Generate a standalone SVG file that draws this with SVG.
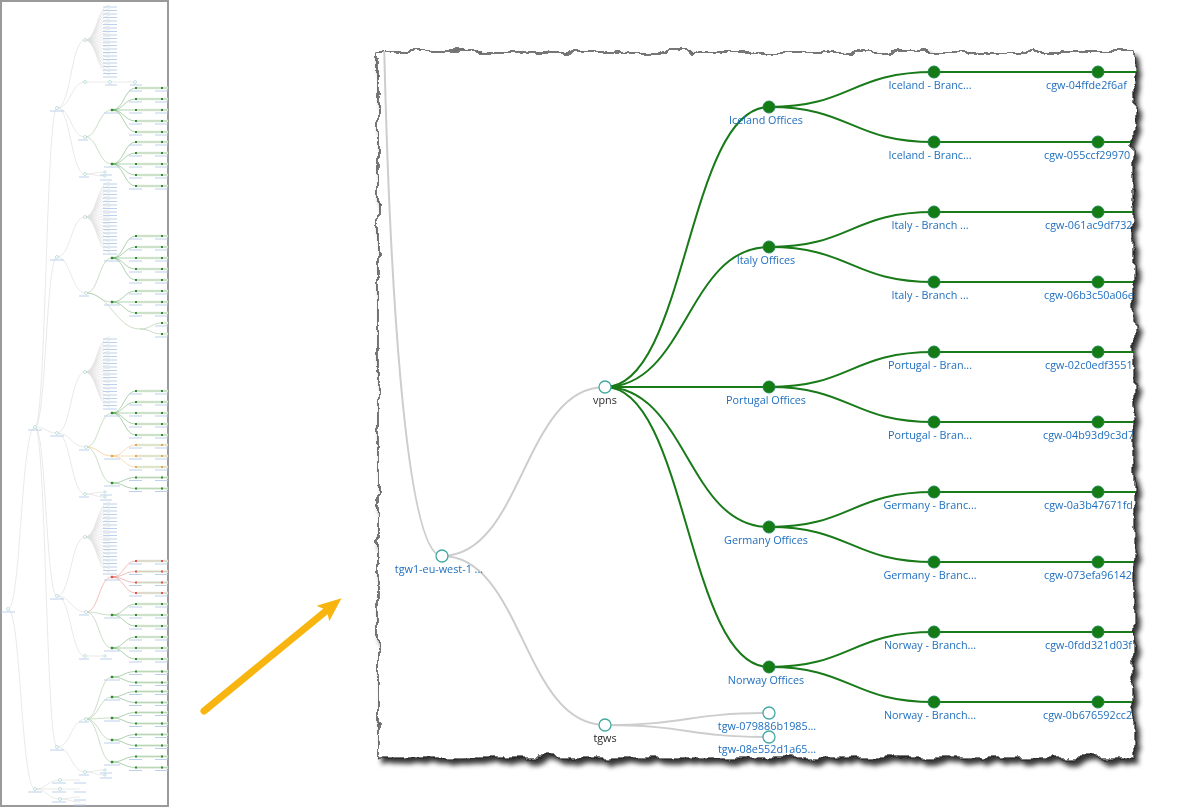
<svg xmlns="http://www.w3.org/2000/svg" xmlns:xlink="http://www.w3.org/1999/xlink" width="1200" height="808" viewBox="0 0 1200 808">
<style>
.lb{font-family:"Open Sans","Noto Sans",sans-serif;font-size:10.8px;fill:#1f6fbf;text-anchor:middle}
.lbs{font-family:"Open Sans","Noto Sans",sans-serif;font-size:10.8px;fill:#1f6fbf}
.lk{fill:#2a2a2a}
.lg{fill:none;stroke:#cdcdcd;stroke-width:2}
.lv{fill:none;stroke:#187a18;stroke-width:2}
.hn{fill:#fff;stroke:#42a9a3;stroke-width:1.3}
.fn{fill:#157c15;stroke:#1d8650;stroke-width:1}
.tg{fill:none;stroke:#e0e0e0;stroke-width:.7}
.tv{fill:none;stroke-width:.7}
.tn{fill:#fff;stroke:#9ccfcc;stroke-width:.6}
.tl{fill:none;stroke:#b5cbe8;stroke-width:.9}
.band{fill:none;stroke:#dfebdb;stroke-width:2.4}
</style>
<defs>
<filter id="torn" x="-5%" y="-5%" width="110%" height="110%">
<feTurbulence type="fractalNoise" baseFrequency="0.05" numOctaves="4" seed="7" result="n"/>
<feDisplacementMap in="SourceGraphic" in2="n" scale="12" xChannelSelector="R" yChannelSelector="G"/>
</filter>
<filter id="sh" x="-5%" y="-5%" width="112%" height="112%">
<feDropShadow dx="4" dy="5" stdDeviation="2.5" flood-color="#000" flood-opacity=".8"/>
</filter>
<mask id="pm" maskUnits="userSpaceOnUse" x="0" y="0" width="1200" height="808">
<rect x="378" y="52" width="756" height="706" fill="#fff" filter="url(#torn)"/>
</mask>
<marker id="ah" markerUnits="userSpaceOnUse" viewBox="0 0 24 24" refX="4" refY="12" markerWidth="24" markerHeight="24" orient="auto">
<polygon points="0,2 24,12 0,22 5,12" fill="#f8b50f"/>
</marker>
<g id="fan">
<path class="tg" d="M0 0C12 0 12 -35 25 -35M0 0C12 0 12 -31.5 25 -31.5M0 0C12 0 12 -28 25 -28M0 0C12 0 12 -24.5 25 -24.5M0 0C12 0 12 -21 25 -21M0 0C12 0 12 -17.5 25 -17.5M0 0C12 0 12 -14 25 -14M0 0C12 0 12 -10.5 25 -10.5M0 0C12 0 12 -7 25 -7M0 0C12 0 12 -3.5 25 -3.5M0 0H25M0 0C12 0 12 3.5 25 3.5M0 0C12 0 12 7 25 7M0 0C12 0 12 10.5 25 10.5M0 0C12 0 12 14 25 14M0 0C12 0 12 17.5 25 17.5M0 0C12 0 12 21 25 21M0 0C12 0 12 24.5 25 24.5M0 0C12 0 12 28 25 28M0 0C12 0 12 31.5 25 31.5M0 0C12 0 12 35 25 35"/>
<path class="tl" d="M18 -33h14M18 -29.5h14M18 -26h14M18 -22.5h14M18 -19h14M18 -15.5h14M18 -12h14M18 -8.5h14M18 -5h14M18 -1.5h14M18 2h14M18 5.5h14M18 9h14M18 12.5h14M18 16h14M18 19.5h14M18 23h14M18 26.5h14M18 30h14M18 33.5h14M18 37h14"/>
<circle class="tn" r="1.5"/>
</g>
<g id="o5">
<path class="tv" stroke="currentColor" stroke-opacity=".55" d="M0 0C12 0 12 -22 24 -22M0 0C12 0 12 -11 24 -11M0 0H24M0 0C12 0 12 11 24 11M0 0C12 0 12 22 24 22"/>
<path class="band" d="M24 -22H56M24 -11H56M24 0H56M24 11H56M24 22H56"/>
<path class="tv" stroke="currentColor" stroke-opacity=".3" stroke-width=".4" d="M24 -22H56M24 -11H56M24 0H56M24 11H56M24 22H56"/>
<path class="tl" d="M17 -19h13M43 -19h13M17 -8h13M43 -8h13M17 3h13M43 3h13M17 14h13M43 14h13M17 25h13M43 25h13M-8 3h16"/>
<g fill="currentColor"><rect x="-1.2" y="-1.2" width="2.4" height="2.4"/><rect x="23" y="-23" width="2" height="2"/><rect x="23" y="-12" width="2" height="2"/><rect x="23" y="-1" width="2" height="2"/><rect x="23" y="10" width="2" height="2"/><rect x="23" y="21" width="2" height="2"/><rect x="49" y="-23" width="2" height="2"/><rect x="49" y="-12" width="2" height="2"/><rect x="49" y="-1" width="2" height="2"/><rect x="49" y="10" width="2" height="2"/><rect x="49" y="21" width="2" height="2"/></g>
</g>
<g id="o3">
<path class="tv" stroke="currentColor" stroke-opacity=".55" d="M0 0C12 0 12 -11 24 -11M0 0H24M0 0C12 0 12 11 24 11"/>
<path class="band" d="M24 -11H56M24 0H56M24 11H56"/>
<path class="tv" stroke="currentColor" stroke-opacity=".3" stroke-width=".4" d="M24 -11H56M24 0H56M24 11H56"/>
<path class="tl" d="M17 -8h13M43 -8h13M17 3h13M43 3h13M17 14h13M43 14h13M-8 3h16"/>
<g fill="currentColor"><rect x="-1.2" y="-1.2" width="2.4" height="2.4"/><rect x="23" y="-12" width="2" height="2"/><rect x="23" y="-1" width="2" height="2"/><rect x="23" y="10" width="2" height="2"/><rect x="49" y="-12" width="2" height="2"/><rect x="49" y="-1" width="2" height="2"/><rect x="49" y="10" width="2" height="2"/></g>
</g>
<g id="o4">
<path class="tv" stroke="currentColor" stroke-opacity=".55" d="M0 0C12 0 12 -16 24 -16M0 0C12 0 12 -5.5 24 -5.5M0 0C12 0 12 5.5 24 5.5M0 0C12 0 12 16 24 16"/>
<path class="band" d="M24 -16H56M24 -5.5H56M24 5.5H56M24 16H56"/>
<path class="tv" stroke="currentColor" stroke-opacity=".3" stroke-width=".4" d="M24 -16H56M24 -5.5H56M24 5.5H56M24 16H56"/>
<path class="tl" d="M17 -13h13M43 -13h13M17 -2.5h13M43 -2.5h13M17 8.5h13M43 8.5h13M17 19h13M43 19h13M-8 3h16"/>
<g fill="currentColor"><rect x="-1.2" y="-1.2" width="2.4" height="2.4"/><rect x="23" y="-17" width="2" height="2"/><rect x="23" y="-6.5" width="2" height="2"/><rect x="23" y="4.5" width="2" height="2"/><rect x="23" y="15" width="2" height="2"/><rect x="49" y="-17" width="2" height="2"/><rect x="49" y="-6.5" width="2" height="2"/><rect x="49" y="4.5" width="2" height="2"/><rect x="49" y="15" width="2" height="2"/></g>
</g>
<g id="o2">
<path class="tv" stroke="currentColor" stroke-opacity=".55" d="M0 0C12 0 12 -5.5 24 -5.5M0 0C12 0 12 5.5 24 5.5"/>
<path class="band" d="M24 -5.5H56M24 5.5H56"/>
<path class="tv" stroke="currentColor" stroke-opacity=".3" stroke-width=".4" d="M24 -5.5H56M24 5.5H56"/>
<path class="tl" d="M17 -2.5h13M43 -2.5h13M17 8.5h13M43 8.5h13M-8 3h16"/>
<g fill="currentColor"><rect x="-1.2" y="-1.2" width="2.4" height="2.4"/><rect x="23" y="-6.5" width="2" height="2"/><rect x="23" y="4.5" width="2" height="2"/><rect x="49" y="-6.5" width="2" height="2"/><rect x="49" y="4.5" width="2" height="2"/></g>
</g>
</defs>

<rect width="1200" height="808" fill="#fff"/>

<!-- overview thumbnail -->
<g id="overview">
<rect x="1" y="1" width="167" height="805" fill="#fff" stroke="#9a9a9a" stroke-width="2"/>
<path class="tg" d="M8 609C21 609 21 427 35 427M8 609C21 609 21 789 35 789M35 427C46 427 46 108 57 108M35 427C46 427 46 257 57 257M35 427C46 427 46 433 57 433M35 427C46 427 46 596 57 596M35 427C46 427 46 747 57 747"/>
<path class="tg" d="M57 108C71 108 71 40 85 40M57 108C71 108 71 82 85 82M57 108C71 108 71 137 85 137M57 108C71 108 71 174 85 174M85 82H135M85 174C95 174 95 172 105 172M85 174C95 174 95 176 105 176"/>
<path class="tg" d="M57 257C71 257 71 217 85 217M57 257C71 257 71 293 86 293"/>
<path class="tg" d="M57 433C71 433 71 372 85 372M57 433C71 433 71 447 86 447M57 433C71 433 71 494 85 494M85 494C95 494 95 492 105 492M85 494C95 494 95 497 105 497"/>
<path class="tg" d="M57 596C71 596 71 537 85 537M57 596C71 596 71 612 86 612M57 596C71 596 71 656 85 656M85 656H105"/>
<path class="tg" d="M57 747C71 747 71 719 86 719M57 747C71 747 71 772 85 772M85 772C95 772 95 770 105 770M85 772C95 772 95 775 105 775"/>
<path class="tg" d="M35 789C47 789 47 780 60 780M35 789H60M35 789C47 789 47 799 60 799M60 780H80M60 789H80M60 799C70 799 70 797 80 797M60 799C70 799 70 802 80 802"/>
<path class="tv" stroke="#b5d0af" d="M85 137C98 137 98 110 112 110M85 137C98 137 98 164 112 164M86 293C99 293 99 258 112 258M86 293C99 293 99 302 112 302M86 293C110 293 116 329 140 329M140 329C151 329 151 323 162 323M140 329C151 329 151 334 162 334M86 447C99 447 99 413 112 413M86 447C99 447 99 483 112 483M86 612C99 612 99 615 112 615M86 612C99 612 99 648 112 648M86 719C99 719 99 677 112 677M86 719C99 719 99 697 112 697M86 719C99 719 99 718 112 718M86 719C99 719 99 740 112 740M86 719C99 719 99 762 112 762"/>
<path class="tv" stroke="#f3c58a" d="M86 447C99 447 99 456 112 456"/>
<path class="tv" stroke="#efa49e" d="M86 612C99 612 99 577 112 577"/>
<use xlink:href="#fan" x="85" y="40"/>
<use xlink:href="#fan" x="85" y="217"/>
<use xlink:href="#fan" x="85" y="372"/>
<use xlink:href="#fan" x="85" y="537"/>
<use xlink:href="#o5" x="112" y="110" color="#2e8a2e"/>
<use xlink:href="#o5" x="112" y="164" color="#2e8a2e"/>
<use xlink:href="#o5" x="112" y="258" color="#2e8a2e"/>
<use xlink:href="#o3" x="112" y="302" color="#2e8a2e"/>
<use xlink:href="#o5" x="112" y="413" color="#2e8a2e"/>
<use xlink:href="#o3" x="112" y="456" color="#e8a54a"/>
<use xlink:href="#o2" x="112" y="483" color="#2e8a2e"/>
<use xlink:href="#o4" x="112" y="577" color="#d9534f"/>
<use xlink:href="#o3" x="112" y="615" color="#2e8a2e"/>
<use xlink:href="#o3" x="112" y="648" color="#2e8a2e"/>
<use xlink:href="#o2" x="112" y="677" color="#2e8a2e"/>
<use xlink:href="#o2" x="112" y="697" color="#2e8a2e"/>
<use xlink:href="#o2" x="112" y="718" color="#2e8a2e"/>
<use xlink:href="#o2" x="112" y="740" color="#2e8a2e"/>
<use xlink:href="#o2" x="112" y="762" color="#2e8a2e"/>
<path class="band" d="M162 323H168M162 334H168"/>
<g fill="#2e8a2e"><rect x="161" y="322" width="2" height="2"/><rect x="161" y="333" width="2" height="2"/></g>
<path class="tl" d="M50 111h14M50 260h14M50 436h14M50 599h14M50 750h14M28 430h14M1 612h14M28 792h14M78 140h10M79 296h10M79 450h10M79 615h10M79 722h10M79 177h10M79 497h10M79 659h10M79 775h10M100 175h12M100 180h12M100 495h12M100 500h12M100 659h12M100 773h12M100 778h12M105 85h12M130 85h12M52 783h14M52 792h14M52 802h14M74 783h12M74 792h12M74 800h12M74 805h12M155 326h13M155 337h13"/>
<g class="tn">
<circle cx="8" cy="609" r="1.5"/><circle cx="35" cy="427" r="1.5"/><circle cx="35" cy="789" r="1.5"/>
<circle cx="57" cy="108" r="1.5"/><circle cx="57" cy="257" r="1.5"/><circle cx="57" cy="433" r="1.5"/><circle cx="57" cy="596" r="1.5"/><circle cx="57" cy="747" r="1.5"/>
<circle cx="85" cy="82" r="1.5"/><circle cx="110" cy="82" r="1.5"/><circle cx="135" cy="82" r="1.5"/>
<circle cx="85" cy="137" r="1.5"/><circle cx="85" cy="174" r="1.5"/><circle cx="86" cy="293" r="1.5"/><circle cx="86" cy="447" r="1.5"/><circle cx="85" cy="494" r="1.5"/><circle cx="86" cy="612" r="1.5"/><circle cx="85" cy="656" r="1.5"/><circle cx="86" cy="719" r="1.5"/><circle cx="85" cy="772" r="1.5"/>
<circle cx="105" cy="172" r="1.2"/><circle cx="105" cy="176" r="1.2"/><circle cx="105" cy="492" r="1.2"/><circle cx="105" cy="497" r="1.2"/><circle cx="105" cy="656" r="1.2"/><circle cx="105" cy="770" r="1.2"/><circle cx="105" cy="775" r="1.2"/>
<circle cx="60" cy="780" r="1.5"/><circle cx="60" cy="789" r="1.5"/><circle cx="60" cy="799" r="1.5"/>
</g>
</g>

<!-- orange arrow -->
<g id="pointer">
<path d="M204 711L326 611" fill="none" stroke="#f8b50f" stroke-width="7" stroke-linecap="round" marker-end="url(#ah)"/>
</g>

<!-- torn paper panel -->
<g id="panel" filter="url(#sh)">
<rect x="378" y="52" width="756" height="706" fill="#fff" stroke="#1e1e1e" stroke-width="1.2" filter="url(#torn)"/>
</g>

<g mask="url(#pm)">
<g id="connectors">
<path class="lg" d="M384 40C389 260 404 556 442 556"/>
<path class="lg" d="M442 556C523 556 523 387 605 387"/>
<path class="lg" d="M442 556C523 556 523 725 605 725"/>
<path class="lg" d="M605 725C687 725 687 713 769 713"/>
<path class="lg" d="M605 725C687 725 687 737 769 737"/>
<path class="lv" d="M605 387C687 387 687 107 769 107"/>
<path class="lv" d="M605 387C687 387 687 247 769 247"/>
<path class="lv" d="M605 387H769"/>
<path class="lv" d="M605 387C687 387 687 527 769 527"/>
<path class="lv" d="M605 387C687 387 687 667 769 667"/>
<path class="lv" d="M769 107C851 107 851 72 934 72"/>
<path class="lv" d="M769 107C851 107 851 142 934 142"/>
<path class="lv" d="M769 247C851 247 851 212 934 212"/>
<path class="lv" d="M769 247C851 247 851 282 934 282"/>
<path class="lv" d="M769 387C851 387 851 352 934 352"/>
<path class="lv" d="M769 387C851 387 851 422 934 422"/>
<path class="lv" d="M769 527C851 527 851 492 934 492"/>
<path class="lv" d="M769 527C851 527 851 562 934 562"/>
<path class="lv" d="M769 667C851 667 851 632 934 632"/>
<path class="lv" d="M769 667C851 667 851 702 934 702"/>
<path class="lv" d="M934 72H1160M934 142H1160M934 212H1160M934 282H1160M934 352H1160M934 422H1160M934 492H1160M934 562H1160M934 632H1160M934 702H1160"/>
</g>

<g id="n-tgw1"><circle class="hn" cx="442" cy="556" r="6"/><text class="lb" x="439" y="573">tgw1-eu-west-1 ...</text></g>
<g id="n-vpns"><circle class="hn" cx="605" cy="387" r="6"/><text class="lb lk" x="605" y="404">vpns</text></g>
<g id="n-tgws"><circle class="hn" cx="605" cy="725" r="6"/><text class="lb lk" x="605" y="742">tgws</text></g>
<g id="n-tgw-a"><circle class="hn" cx="769" cy="713" r="6"/><text class="lb" x="767" y="730">tgw-079886b1985...</text></g>
<g id="n-tgw-b"><circle class="hn" cx="769" cy="737" r="6"/><text class="lb" x="767" y="753">tgw-08e552d1a65...</text></g>

<g id="n-iceland"><circle class="fn" cx="769" cy="107" r="6"/><text class="lb" x="766" y="124">Iceland Offices</text></g>
<g id="n-italy"><circle class="fn" cx="769" cy="247" r="6"/><text class="lb" x="766" y="264">Italy Offices</text></g>
<g id="n-portugal"><circle class="fn" cx="769" cy="387" r="6"/><text class="lb" x="766" y="404">Portugal Offices</text></g>
<g id="n-germany"><circle class="fn" cx="769" cy="527" r="6"/><text class="lb" x="766" y="544">Germany Offices</text></g>
<g id="n-norway"><circle class="fn" cx="769" cy="667" r="6"/><text class="lb" x="766" y="684">Norway Offices</text></g>

<g id="n-ib1"><circle class="fn" cx="934" cy="72" r="6"/><text class="lb" x="930" y="89">Iceland - Branc...</text></g>
<g id="n-ib2"><circle class="fn" cx="934" cy="142" r="6"/><text class="lb" x="930" y="159">Iceland - Branc...</text></g>
<g id="n-itb1"><circle class="fn" cx="934" cy="212" r="6"/><text class="lb" x="930" y="229">Italy - Branch ...</text></g>
<g id="n-itb2"><circle class="fn" cx="934" cy="282" r="6"/><text class="lb" x="930" y="299">Italy - Branch ...</text></g>
<g id="n-pb1"><circle class="fn" cx="934" cy="352" r="6"/><text class="lb" x="930" y="369">Portugal - Bran...</text></g>
<g id="n-pb2"><circle class="fn" cx="934" cy="422" r="6"/><text class="lb" x="930" y="439">Portugal - Bran...</text></g>
<g id="n-gb1"><circle class="fn" cx="934" cy="492" r="6"/><text class="lb" x="930" y="509">Germany - Branc...</text></g>
<g id="n-gb2"><circle class="fn" cx="934" cy="562" r="6"/><text class="lb" x="930" y="579">Germany - Branc...</text></g>
<g id="n-nb1"><circle class="fn" cx="934" cy="632" r="6"/><text class="lb" x="930" y="649">Norway - Branch...</text></g>
<g id="n-nb2"><circle class="fn" cx="934" cy="702" r="6"/><text class="lb" x="930" y="719">Norway - Branch...</text></g>

<g id="n-c1"><circle class="fn" cx="1098" cy="72" r="6"/><text class="lbs" x="1046" y="89">cgw-04ffde2f6af</text></g>
<g id="n-c2"><circle class="fn" cx="1098" cy="142" r="6"/><text class="lbs" x="1044" y="159">cgw-055ccf29970</text></g>
<g id="n-c3"><circle class="fn" cx="1098" cy="212" r="6"/><text class="lbs" x="1045" y="229">cgw-061ac9df732</text></g>
<g id="n-c4"><circle class="fn" cx="1098" cy="282" r="6"/><text class="lbs" x="1044" y="299">cgw-06b3c50a06e</text></g>
<g id="n-c5"><circle class="fn" cx="1098" cy="352" r="6"/><text class="lbs" x="1045" y="369">cgw-02c0edf3551</text></g>
<g id="n-c6"><circle class="fn" cx="1098" cy="422" r="6"/><text class="lbs" x="1043" y="439">cgw-04b93d9c3d7</text></g>
<g id="n-c7"><circle class="fn" cx="1098" cy="492" r="6"/><text class="lbs" x="1044" y="509">cgw-0a3b47671fd</text></g>
<g id="n-c8"><circle class="fn" cx="1098" cy="562" r="6"/><text class="lbs" x="1044" y="579">cgw-073efa96142</text></g>
<g id="n-c9"><circle class="fn" cx="1098" cy="632" r="6"/><text class="lbs" x="1045" y="649">cgw-0fdd321d03f</text></g>
<g id="n-c10"><circle class="fn" cx="1098" cy="702" r="6"/><text class="lbs" x="1043" y="719">cgw-0b676592cc2</text></g>
</g>
</svg>
